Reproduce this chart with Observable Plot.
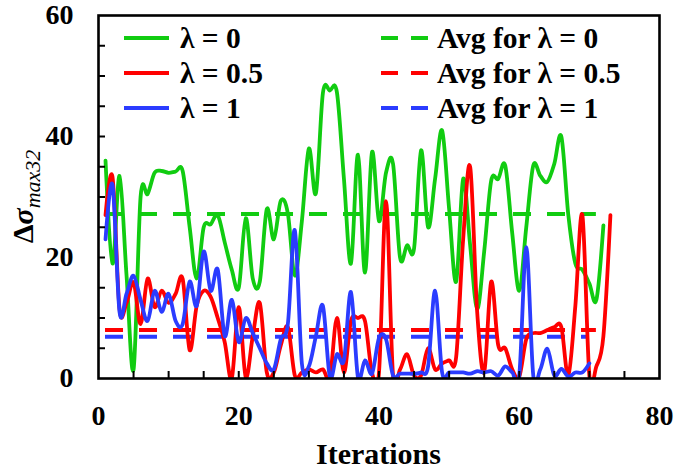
<!DOCTYPE html>
<html>
<head>
<meta charset="utf-8">
<script src="https://cdn.jsdelivr.net/npm/d3@7"></script>
<script src="https://cdn.jsdelivr.net/npm/@observablehq/plot@0.6"></script>
<style>
  html, body { margin: 0; padding: 0; background: #fff; }
</style>
</head>
<body>
<div id="chart"></div>
<script>
// ---- data ----
const seriesNames = ["λ = 0", "λ = 0.5", "λ = 1"];
const avgNames = ["Avg for λ = 0", "Avg for λ = 0.5", "Avg for λ = 1"];
const colors = ["#11cc11", "#ff0000", "#2b3cff"];

const greenVals = [36, 19, 33.5, 17, 1.5, 30, 30.5, 34, 34.3, 34, 34.2, 34.3, 25, 16.5, 25, 25.5, 27, 22.5, 18, 15,
  26.5, 16.5, 16, 28, 23, 29.4, 27.3, 17, 26, 38, 30.6, 47.2, 47.6, 47.3, 33, 19, 37, 17.5, 37.4, 26,
  34, 35.5, 20, 22, 21.5, 37.7, 25, 33, 41, 28, 16, 33, 22, 11.5, 21, 32.7, 33, 35.2, 24, 14.5,
  25, 35.2, 33.5, 32.5, 35.5, 40, 27, 19, 18, 15.7, 13, 25.3];

const redVals = [27, 33.3, 11.5, 12.5, 15.9, 9, 16.5, 11.8, 14.5, 12.5, 14, 16.5, 4.7, 12, 14.5, 13.5, 10, 6, 0, 11.8,
  0.2, 7, 12.5, 1, 1, 5.5, 8.5, 0.5, 1, 1.5, 1, 1.5, 0.3, 10, 1, 9.5, 10, 9.5, 1, 1,
  29.3, 0.5, 1.5, 4, 0.5, 0.5, 5, 1.5, 2.5, 3, 3.5, 23, 35, 11, 1, 16, 5.5, 5, 1.5, 0.3,
  6.5, 7.5, 7.5, 8, 8.5, 8.5, 0.5, 12, 27, 0.5, 2, 7, 27];

const blueVals = [23, 32, 11, 14, 17, 13, 9.5, 14.5, 11, 14, 9.5, 9, 16, 12, 21, 14.5, 18, 7, 13, 6,
  10, 7.5, 5, 2.5, 1.5, 6.5, 9, 24.5, 2.5, 2, 7, 12, 0.2, 4, 3, 14.3, 0.2, 3, 0.8, 6.7,
  6.5, 0.5, 0.8, 0.8, 0.8, 1, 2, 14.5, 1, 1, 1, 1, 0.8, 1.2, 1, 1.2, 0.5, 2, 1, 0.5,
  21.7, 0.5, 1.5, 4.9, 0.5, 1.6, 0.3, 1, 1, 2.5];

const avgVals = [27.2, 8, 6.9];
const avgStart = [1, 1, 1];
const avgEnd = [71, 71, 70];

const xLabels = [0, 20, 40, 60, 80];
const yLabels = [0, 20, 40, 60];
const xMinor = [5, 10, 15, 20, 25, 30, 35, 40, 45, 50, 55, 60, 65, 70, 75];
const yMinor = [5, 10, 15, 20, 25, 30, 35, 40, 45, 50, 55];

// ---- layout ----
const W = 675, H = 471;
const mL = 98, mR = 16, mT = 15, mB = 93;
const innerW = W - mL - mR, innerH = H - mT - mB;
const tickLen = 7;
const FF = "Liberation Serif";

const toPts = vals => vals.map((y, i) => ({x: i + 1, y}));
const series = [greenVals, redVals, blueVals].map(toPts);
const avgRows = avgVals.map((v, i) => ({y: v, x1: avgStart[i], x2: avgEnd[i], c: colors[i]}));

const plot = Plot.plot({
  width: W, height: H,
  marginLeft: mL, marginRight: mR, marginTop: mT, marginBottom: mB,
  x: {domain: [0, 80]},
  y: {domain: [0, 60]},
  style: {fontFamily: FF, fontWeight: "bold", fontSize: "28px", background: "white", color: "black", overflow: "visible"},
  marks: [
    Plot.ruleY(avgRows, {y: "y", x1: "x1", x2: "x2", stroke: "c", strokeWidth: 4, strokeDasharray: "18,16"}),
    ...series.map((pts, i) => Plot.line(pts, {x: "x", y: "y", stroke: colors[i], strokeWidth: 3.8, curve: "cardinal", tension: 0, clip: true})),
    Plot.tickY(yMinor, {y: d => d, stroke: "black", strokeWidth: 2, insetRight: innerW - tickLen}),
    Plot.tickX(xMinor, {x: d => d, stroke: "black", strokeWidth: 2, insetTop: innerH - tickLen}),
    Plot.axisY({ticks: yLabels, tickSize: 0, tickPadding: 25, label: null}),
    Plot.axisX({ticks: xLabels, tickSize: 0, tickPadding: 27, label: null}),
    Plot.frame({stroke: "black", strokeWidth: 2.6})
  ]
});

document.getElementById("chart").appendChild(plot);

// ---- axis titles and legend ----
const svg = d3.select(plot);

svg.append("text")
  .attr("x", mL + innerW / 2).attr("y", 464)
  .attr("fill", "black")
  .style("text-anchor", "middle").style("font-weight", "bold").style("font-size", "30px")
  .text("Iterations");

const yl = svg.append("text")
  .attr("transform", `translate(33,${mT + innerH / 2}) rotate(-90)`)
  .attr("fill", "black")
  .style("text-anchor", "middle");
yl.append("tspan").style("font-weight", "bold").style("font-size", "30px").text("Δ");
yl.append("tspan").style("font-weight", "bold").style("font-style", "italic").style("font-size", "30px").text("σ");
yl.append("tspan").style("font-weight", "normal").style("font-style", "italic").style("font-size", "22px").attr("dy", 7).text("max32");

const rowsY = [38, 73, 108];
const leg = svg.append("g");
seriesNames.forEach((name, i) => {
  leg.append("line").attr("x1", 124).attr("x2", 169).attr("y1", rowsY[i]).attr("y2", rowsY[i])
    .attr("stroke", colors[i]).attr("stroke-width", 4.2);
  leg.append("text").attr("x", 180).attr("y", rowsY[i]).attr("dy", "0.34em").attr("fill", "black")
    .style("text-anchor", "start").style("font-weight", "bold").style("font-size", "29.5px").text(name);
});
avgNames.forEach((name, i) => {
  leg.append("line").attr("x1", 381).attr("x2", 428).attr("y1", rowsY[i]).attr("y2", rowsY[i])
    .attr("stroke", colors[i]).attr("stroke-width", 4.2).attr("stroke-dasharray", "17,13");
  leg.append("text").attr("x", 437).attr("y", rowsY[i]).attr("dy", "0.34em").attr("fill", "black")
    .style("text-anchor", "start").style("font-weight", "bold").style("font-size", "29.5px").text(name);
});

svg.selectAll("text, tspan").style("font-family", FF);
</script>
</body>
</html>
